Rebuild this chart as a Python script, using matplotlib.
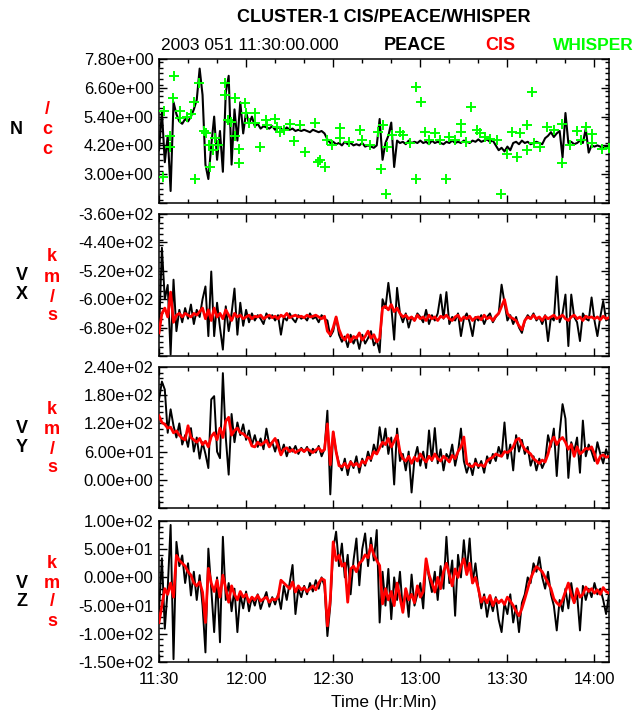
import numpy as np
import matplotlib
matplotlib.use("Agg")
import matplotlib.pyplot as plt
from matplotlib.ticker import MultipleLocator, FixedLocator, FixedFormatter

plt.rcParams['font.family'] = ['Liberation Sans', 'DejaVu Sans']

# ---------------- data (minutes after 11:30 UT) ----------------
minutes = np.arange(156)

n_peace = [4.0, 5.6, 3.5, 4.6, 2.3, 6.0, 5.5, 5.2, 5.1, 5.3,
           5.2, 5.4, 5.7, 6.1, 7.4, 6.3, 3.4, 2.8, 4.2, 5.4,
           3.6, 4.8, 3.1, 6.4, 7.1, 3.4, 5.7, 4.4, 6.0, 4.7,
           5.6, 5.1, 5.4, 5.0, 5.1, 4.9, 5.0, 4.95, 4.9, 5.0,
           4.85, 4.95, 4.9, 4.8, 4.95, 4.85, 4.9, 4.8, 4.85, 4.8,
           4.85, 4.8, 4.75, 4.85, 4.8, 4.75, 4.8, 4.7, 4.45, 4.3,
           4.35, 4.25, 4.3, 4.2, 4.35, 4.25, 4.3, 4.2, 4.25, 4.2,
           4.3, 4.15, 4.2, 4.15, 4.1, 4.2, 5.3, 3.6, 4.3, 4.6,
           5.15, 3.3, 4.4, 4.3, 4.35, 4.25, 4.4, 4.3, 4.35, 4.3,
           4.4, 4.3, 4.35, 4.25, 4.4, 4.3, 4.35, 4.3, 4.25, 4.35,
           4.3, 4.4, 4.3, 4.35, 4.3, 4.4, 4.35, 4.3, 4.4, 4.35,
           4.45, 4.35, 4.4, 4.45, 4.35, 4.4, 4.2, 4.0, 4.1, 3.95,
           4.15, 4.0, 4.3, 4.35, 4.25, 4.4, 4.3, 4.35, 4.25, 4.3,
           4.35, 4.3, 4.25, 4.5, 4.6, 4.75, 4.55, 4.7, 4.8, 3.7,
           5.55, 4.3, 4.35, 4.25, 4.3, 4.4, 4.3, 4.9, 3.9, 4.2,
           4.15, 4.2, 4.15, 4.1, 4.15, 4.15]

whisper_t = [1.5, 1.7, 3.8, 3.8, 4.9, 5.3, 7.2, 7.2, 9.5, 10.9, 12.2, 12.4, 13.9,
             15.6, 16.2, 17.1, 17.6, 18.7, 19.3, 20.4, 22.9, 22.9, 23.9, 24.7,
             26.2, 26.2, 27.7, 27.7, 29.7, 30.0, 31.1, 33.1, 33.1, 34.8, 36.8,
             37.1, 40.0, 40.6, 41.7, 42.9, 45.2, 46.6, 48.6, 50.3, 53.8, 54.9,
             55.5, 57.2, 57.8, 59.5, 62.4, 62.4, 65.3, 69.3, 69.9, 72.8, 75.3,
             76.5, 77.1, 78.3, 78.5, 80.2, 83.1, 84.2, 86.6, 88.6, 88.6, 90.2,
             91.7, 92.9, 95.2, 96.9, 99.0, 99.8, 102.1, 104.1, 104.1, 105.9,
             107.6, 109.5, 110.7, 112.4, 114.1, 116.4, 117.9, 119.9, 121.6,
             123.3, 124.5, 126.8, 126.8, 128.4, 129.1, 131.4, 133.7, 136.0,
             138.9, 138.9, 141.7, 144.0, 145.2, 147.2, 149.2, 149.2, 152.6, 155.0]
whisper_n = [2.89, 5.63, 4.59, 4.14, 6.18, 7.09, 5.64, 5.34, 5.39, 5.50, 6.02, 2.79, 6.78,
             4.81, 4.71, 4.21, 3.30, 4.00, 4.49, 4.21, 6.78, 6.30, 5.25, 5.18,
             6.16, 4.59, 4.07, 3.45, 5.95, 5.53, 5.12, 5.53, 5.12, 4.14, 5.25,
             5.04, 5.28, 4.97, 4.76, 4.84, 5.09, 4.39, 5.04, 3.93, 5.12, 3.51,
             3.58, 3.28, 4.42, 4.21, 4.91, 4.49, 4.35, 4.84, 4.42, 4.21, 4.76,
             3.20, 5.04, 2.16, 4.14, 4.63, 4.76, 4.63, 4.28, 6.64, 2.78, 6.02,
             4.76, 4.42, 4.72, 4.42, 2.78, 4.53, 4.42, 5.09, 4.76, 4.35,
             5.81, 4.84, 4.70, 4.53, 4.45, 4.42, 2.16, 3.86, 4.76,
             3.72, 4.72, 5.04, 4.00, 6.44, 4.28, 4.14, 4.97, 4.84,
             5.09, 3.45, 4.21, 4.81, 4.42, 4.95, 4.67, 4.28, 4.07, 4.11]

vx_peace = [-700, -455, -600, -560, -756, -545, -690, -630, -665, -625,
            -655, -615, -670, -630, -650, -600, -564, -704, -522, -704,
            -610, -680, -742, -620, -690, -640, -570, -700, -610, -675,
            -630, -665, -640, -660, -645, -655, -670, -640, -655, -645,
            -660, -645, -700, -650, -660, -640, -655, -665, -645, -655,
            -650, -660, -640, -655, -650, -665, -645, -655, -660, -705,
            -690, -650, -700, -720, -705, -735, -700, -725, -705, -740,
            -700, -725, -710, -690, -730, -715, -750, -600, -625, -554,
            -620, -714, -568, -640, -665, -640, -680, -650, -660, -640,
            -650, -665, -630, -670, -645, -660, -640, -587, -655, -580,
            -670, -650, -660, -640, -704, -655, -640, -665, -704, -650,
            -660, -645, -670, -650, -640, -665, -650, -640, -559, -610,
            -660, -645, -670, -650, -680, -695, -660, -645, -655, -640,
            -660, -650, -670, -645, -718, -650, -660, -536, -665, -640,
            -587, -732, -587, -650, -665, -718, -640, -655, -660, -595,
            -660, -704, -650, -605, -660, -655]
vx_cis = [-695, -640, -625, -650, -580, -665, -645, -640, -650, -640,
          -645, -650, -640, -645, -635, -625, -655, -630, -660, -625,
          -650, -640, -655, -630, -645, -660, -640, -650, -645, -655,
          -650, -645, -655, -648, -650, -645, -655, -650, -645, -652,
          -648, -655, -645, -650, -640, -652, -648, -645, -650, -648,
          -652, -645, -650, -648, -645, -650, -655, -648, -690, -700,
          -680, -650, -685, -705, -715, -700, -720, -705, -710, -695,
          -715, -705, -690, -710, -700, -720, -710, -625, -620, -630,
          -615, -635, -625, -640, -650, -645, -655, -650, -660, -645,
          -655, -650, -660, -645, -655, -650, -660, -648, -652, -645,
          -655, -660, -650, -645, -660, -650, -655, -648, -660, -652,
          -650, -658, -645, -655, -650, -660, -648, -640, -620, -601,
          -640, -650, -655, -660, -675, -686, -660, -650, -655, -645,
          -655, -650, -660, -648, -655, -650, -645, -655, -650, -645,
          -655, -660, -650, -645, -655, -650, -660, -648, -652, -650,
          -655, -650, -658, -648, -655, -652]

vy_peace = [170, 209, 192, 100, 150, 115, 90, 120, 75, 95,
            70, 110, 60, 90, 45, 80, 55, 25, 171, 178,
            60, 46, 227, 90, 11, 140, 80, 122, 95, 118,
            85, 105, 74, 95, 70, 88, 65, 109, 75, 80,
            60, 85, 55, 75, 50, 70, 60, 72, 55, 68,
            60, 70, 52, 66, 58, 72, 50, 65, 147, -31,
            102, 60, 35, 20, 45, 10, 40, 25, 50, 15,
            45, 30, 60, 40, 75, 55, 112, 70, 109, 55,
            90, -10, 109, 40, 55, 20, 60, -27, 45, 70,
            30, 60, 25, 105, 40, 110, 35, 65, 20, 55,
            45, 75, 30, 60, 109, 40, 15, 35, 10, 45,
            25, 40, 15, 50, 35, 55, 40, 70, 50, 122,
            45, 75, 20, 95, 60, 85, 55, 70, 30, 50,
            20, 45, 25, 40, 95, 70, 109, 8, 100, 161,
            130, 4, 80, 60, 90, 15, 126, 50, 75, 60,
            40, 80, 55, 35, 65, 45]
vy_cis = [136, 122, 118, 110, 112, 100, 104, 95, 88, 85,
          115, 90, 85, 80, 88, 75, 82, 70, 92, 100,
          85, 110, 90, 125, 133, 95, 105, 110, 100, 98,
          92, 88, 72, 70, 80, 74, 78, 84, 70, 80,
          88, 72, 53, 65, 68, 60, 64, 58, 62, 65,
          60, 66, 62, 58, 63, 68, 60, 64, 119, 32,
          102, 60, 30, 28, 35, 25, 38, 30, 35, 28,
          40, 35, 48, 45, 60, 55, 68, 80, 75, 88,
          70, 82, 95, 60, 45, 40, 50, 35, 48, 40,
          55, 45, 38, 50, 42, 55, 45, 40, 50, 45,
          38, 52, 45, 60, 70, 91, 35, 30, 28, 35,
          30, 32, 28, 40, 45, 48, 55, 52, 50, 60,
          58, 62, 70, 85, 88, 75, 65, 60, 55, 45,
          40, 35, 42, 38, 55, 80, 91, 75, 85, 90,
          80, 65, 75, 50, 70, 55, 60, 67, 65, 70,
          55, 35, 50, 53, 48, 50]

vz_peace = [-60, 34, -91, -20, 93, -145, 63, 20, 39, -10,
            25, -32, 10, -40, 4, -50, -133, 51, -20, -97,
            0, -115, 72, -40, -10, -60, -20, -97, -30, -55,
            -25, -60, -35, -50, -30, -56, -40, -26, -52, -35,
            -48, -30, -56, -15, -40, -10, 22, -65, -20, -35,
            -15, -30, -10, -25, -5, -20, 0, -15, -104, -50,
            50, 81, 20, 60, 0, 40, -30, 30, 69, -14,
            50, 78, 20, 70, 30, 84, -80, 10, -50, 15,
            -74, 0, -40, 10, -60, -20, -70, 5, -50, -30,
            -10, -55, 30, 0, -26, 10, -40, 20, -20, 72,
            -10, 30, -68, 40, 0, 66, 10, 69, -10, 25,
            -20, -55, -30, -70, -40, -60, -35, -75, -97, -45,
            -65, -30, -80, -50, -97, -45, -30, 0, -10, 25,
            10, 36, 0, -20, 10, -30, -50, -94, -40, -60,
            -20, -55, -10, -45, -30, -94, -15, -40, -20, -35,
            -10, -30, -20, -40, -65, -30]
vz_cis = [-80, -50, -20, -30, -10, -35, 39, 30, 25, 20,
          10, 4, -10, -15, -8, -26, -80, 16, -10, -25,
          -5, -35, 4, -20, -44, -15, -30, -40, -25, -35,
          -30, -44, -35, -40, -32, -42, -38, -35, -44, -38,
          -40, -35, -5, -10, -15, -20, -8, -26, -15, -22,
          -18, -25, -20, -15, -22, -10, -2, -5, -86, -40,
          63, 30, 39, 20, 25, -44, 15, 20, 10, 25,
          30, 40, 35, 57, 40, 30, 21, -47, -20, -40,
          -25, -50, -10, -35, -62, -20, -40, -30, -45, -15,
          -35, -25, 33, 5, -10, -26, 0, -20, 10, 25,
          5, -15, 15, 0, 20, 33, 5, 25, -10, 0,
          -20, -44, -35, -45, -32, -50, -38, -45, -40, -48,
          -35, -42, -50, -60, -68, -55, -38, -20, -2, 10,
          19, 15, 10, 0, -10, -20, -38, -45, -50, -40,
          -25, -10, -30, -45, -20, -35, -30, -17, -25, -20,
          -28, -22, -30, -18, -25, -28]

time_ticks = [0, 30, 60, 90, 120, 150]
time_labels = ["11:30", "12:00", "12:30", "13:00", "13:30", "14:00"]

# ---------------- figure ----------------
W, H = 637, 711
fig = plt.figure(figsize=(W / 100, H / 100), dpi=100)

def fx(px):
    return px / W

def fy(py):
    return 1 - py / H

left, right = 159, 609
panels = [(59, 203), (214, 356), (367, 508), (521, 662)]
axes = []
for top, bot in panels:
    ax = fig.add_axes([fx(left), fy(bot), fx(right - left), (bot - top) / H])
    axes.append(ax)

RED = '#ff0000'
GREEN = '#00ff00'

specs = [
    ((1.8, 7.8), 1.2, [3.0, 4.2, 5.4, 6.6, 7.8]),
    ((-760, -360), 80, [-680, -600, -520, -440, -360]),
    ((-60, 240), 60, [0, 60, 120, 180, 240]),
    ((-150, 100), 50, [-150, -100, -50, 0, 50, 100]),
]

axes[0].plot(minutes, n_peace, color='black', lw=1.5, zorder=2)
axes[0].plot(whisper_t, whisper_n, linestyle='none', marker='+', color=GREEN,
             markersize=7, mew=1.4, zorder=3)

axes[1].plot(minutes, vx_peace, color='black', lw=1.4, zorder=2)
axes[1].plot(minutes, vx_cis, color=RED, lw=2.0, zorder=3)
axes[2].plot(minutes, vy_peace, color='black', lw=1.4, zorder=2)
axes[2].plot(minutes, vy_cis, color=RED, lw=2.0, zorder=3)
axes[3].plot(minutes, vz_peace, color='black', lw=1.4, zorder=2)
axes[3].plot(minutes, vz_cis, color=RED, lw=2.0, zorder=3)

for i, (ax, (ylim, step, labelled)) in enumerate(zip(axes, specs)):
    ax.set_xlim(0, 155)
    ax.set_ylim(*ylim)
    majors = list(np.arange(ylim[0], ylim[1] + step * 0.5, step))
    ax.yaxis.set_major_locator(FixedLocator(majors))
    labs = []
    for v in majors:
        if any(abs(v - l) < 1e-6 for l in labelled):
            labs.append("%.2e" % v)
        else:
            labs.append("")
    ax.yaxis.set_major_formatter(FixedFormatter(labs))
    ax.yaxis.set_minor_locator(MultipleLocator(step / 5))
    ax.xaxis.set_major_locator(FixedLocator(time_ticks))
    ax.xaxis.set_minor_locator(MultipleLocator(10))
    if i == 3:
        ax.set_xticklabels(time_labels)
    else:
        ax.set_xticklabels([])
    ax.tick_params(which='both', direction='in', top=True, right=True, width=1.0)
    ax.tick_params(which='major', length=6, labelsize=12, pad=4)
    ax.tick_params(which='minor', length=3)
    ax.tick_params(axis='x', which='major', pad=7)
    for s in ax.spines.values():
        s.set_linewidth(1.1)

# titles
fig.text(fx(384), fy(18), "CLUSTER-1 CIS/PEACE/WHISPER", ha='center', va='center',
         fontsize=13, fontweight='bold')
fig.text(fx(250), fy(46), "2003 051 11:30:00.000", ha='center', va='center', fontsize=12.5)
fig.text(fx(415), fy(46), "PEACE", ha='center', va='center', fontsize=13, fontweight='bold')
fig.text(fx(500), fy(46), "CIS", ha='center', va='center', fontsize=13, fontweight='bold',
         color=RED)
fig.text(fx(634), fy(46), "WHISPER", ha='right', va='center', fontsize=12.5, fontweight='bold',
         color=GREEN)

def stack(x, ys, chars, color):
    for y, c in zip(ys, chars):
        fig.text(fx(x), fy(y), c, ha='center', va='center', fontsize=13,
                 fontweight='bold', color=color)

stack(16, [130], ["N"], 'black')
stack(47, [110, 130, 149], ["/", "c", "c"], RED)
stack(22, [275, 294], ["V", "X"], 'black')
stack(52, [257, 277, 297, 316], ["k", "m", "/", "s"], RED)
stack(22, [429, 448], ["V", "Y"], 'black')
stack(52, [410, 430, 449, 468], ["k", "m", "/", "s"], RED)
stack(22, [583, 602], ["V", "Z"], 'black')
stack(52, [563, 583, 602, 622], ["k", "m", "/", "s"], RED)

fig.text(fx(384), fy(702), "Time (Hr:Min)", ha='center', va='center', fontsize=12.5)

fig.savefig("out.png", dpi=100)
